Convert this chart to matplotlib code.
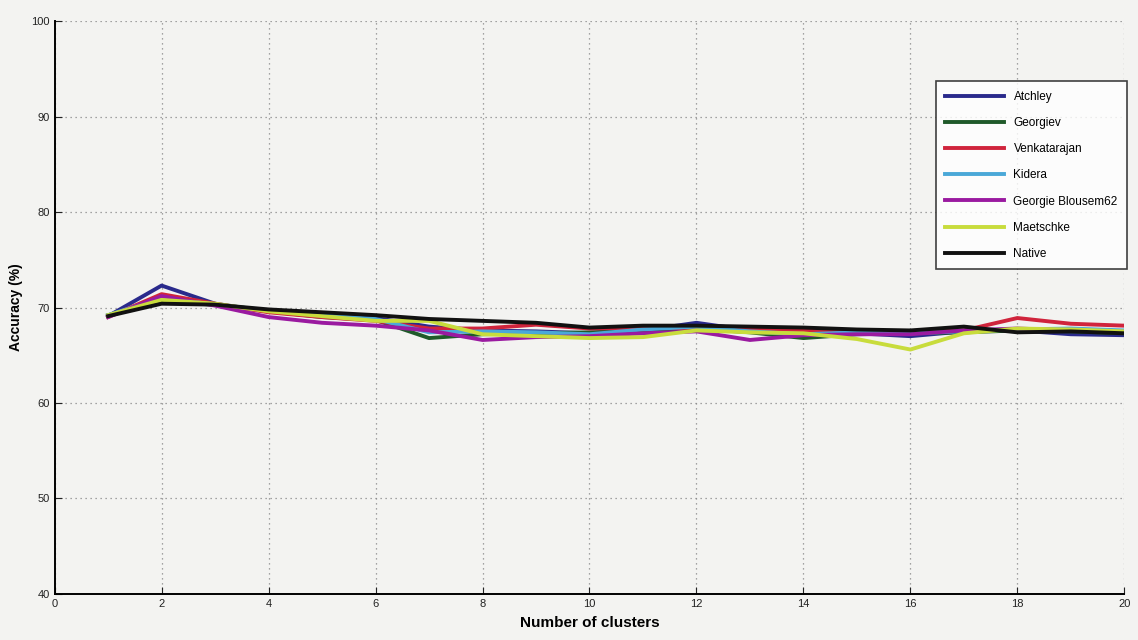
import numpy as np
import matplotlib.pyplot as plt

plt.rcParams['font.family'] = ['Liberation Sans', 'DejaVu Sans']

clusters = list(range(1, 21))

atchley = [69.1, 72.3, 70.4, 69.6, 69.2, 68.9, 68.0, 67.6, 67.5, 67.3,
           67.6, 68.4, 67.6, 67.3, 67.3, 67.0, 67.5, 67.6, 67.2, 67.1]
georgiev = [69.2, 70.6, 70.3, 69.6, 69.0, 68.7, 66.8, 67.2, 67.3, 67.4,
            67.6, 67.8, 67.4, 66.8, 67.2, 67.3, 67.4, 67.6, 67.5, 67.3]
venkatarajan = [69.0, 71.4, 70.4, 69.5, 69.0, 68.6, 67.8, 67.8, 68.2, 67.8,
                67.9, 67.8, 67.8, 67.6, 67.5, 67.4, 67.6, 68.9, 68.3, 68.1]
kidera = [69.2, 71.0, 70.3, 69.7, 69.2, 68.8, 67.4, 67.5, 67.4, 67.2,
          67.7, 68.0, 67.5, 67.2, 67.4, 67.3, 67.5, 67.7, 67.8, 67.6]
blosum = [69.0, 71.2, 70.2, 69.0, 68.4, 68.1, 67.6, 66.6, 66.9, 67.0,
          67.3, 67.5, 66.6, 67.1, 67.2, 67.2, 67.6, 67.8, 67.6, 67.4]
maetschke = [69.2, 70.8, 70.4, 69.6, 69.1, 68.6, 68.6, 67.2, 67.0, 66.8,
             66.9, 67.6, 67.4, 67.3, 66.7, 65.6, 67.3, 67.8, 67.7, 67.5]
native = [69.1, 70.4, 70.3, 69.8, 69.5, 69.2, 68.8, 68.6, 68.4, 67.9,
          68.1, 68.1, 68.0, 67.9, 67.7, 67.6, 68.0, 67.4, 67.5, 67.3]

series = [
    ('Atchley', atchley, '#2a2a8c'),
    ('Georgiev', georgiev, '#1f5a2a'),
    ('Venkatarajan', venkatarajan, '#d0243c'),
    ('Kidera', kidera, '#4aa8d8'),
    ('Georgie Blousem62', blosum, '#9a1aa0'),
    ('Maetschke', maetschke, '#c8dc3c'),
    ('Native', native, '#111111'),
]

bg = '#f3f3f1'
fig = plt.figure(figsize=(11.38, 6.4), dpi=100, facecolor=bg)
ax = fig.add_axes([0.048, 0.072, 0.94, 0.895])
ax.set_facecolor(bg)

for name, vals, col in series:
    ax.plot(clusters, vals, color=col, lw=2.8, label=name)

ax.set_xlim(0, 20)
ax.set_ylim(40, 100)
ax.set_xticks(range(0, 21, 2))
ax.set_yticks(range(40, 101, 10))
ax.tick_params(direction='in', length=5, labelsize=8, colors='#222222')
ax.grid(True, linestyle=(0, (1, 3)), color='#888888', lw=0.9)
for s in ['top', 'right']:
    ax.spines[s].set_visible(False)
for s in ['left', 'bottom']:
    ax.spines[s].set_linewidth(1.4)

ax.set_xlabel('Number of clusters', fontsize=11, fontweight='bold', labelpad=5)
ax.set_ylabel('Accuracy (%)', fontsize=10, fontweight='bold', labelpad=6)

leg = ax.legend(loc='upper left', bbox_to_anchor=(0.818, 0.905), fontsize=8.5,
                handlelength=5, labelspacing=1.2, frameon=True,
                fancybox=False, edgecolor='#111111', facecolor='white',
                borderpad=0.8)
leg.get_frame().set_linewidth(1.2)

fig.savefig('out.png', dpi=100, facecolor=bg)
